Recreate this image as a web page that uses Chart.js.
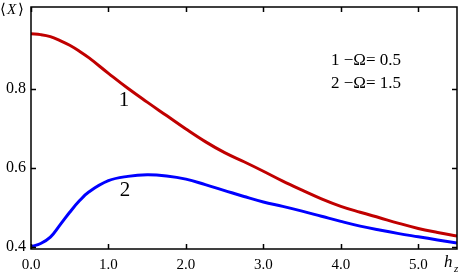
<!DOCTYPE html>
<html>
<head>
<meta charset="utf-8">
<script src="https://cdn.jsdelivr.net/npm/chart.js@4"></script>
<style>
    html, body { margin: 0; padding: 0; background: #fff; }
    #wrap { width: 463px; height: 273px; position: relative; }
</style>
</head>
<body>
<div id="wrap"><canvas id="chart-x"></canvas></div>
<script>
// values
const hz = [0, 0.125, 0.25, 0.375, 0.5, 0.625, 0.75, 1.0, 1.25, 1.5, 1.75, 2.0, 2.25, 2.5, 2.75, 3.0, 3.25, 3.5, 3.75, 4.0, 4.25, 4.5, 4.75, 5.0, 5.25, 5.5];
const xOmega05 = [0.940, 0.938, 0.933, 0.923, 0.911, 0.896, 0.879, 0.840, 0.802, 0.767, 0.733, 0.699, 0.667, 0.639, 0.616, 0.592, 0.567, 0.544, 0.522, 0.503, 0.488, 0.474, 0.460, 0.447, 0.437, 0.428];
const xOmega15 = [0.401, 0.409, 0.425, 0.456, 0.488, 0.517, 0.540, 0.568, 0.579, 0.583, 0.580, 0.572, 0.558, 0.543, 0.528, 0.514, 0.503, 0.491, 0.478, 0.465, 0.453, 0.443, 0.434, 0.426, 0.418, 0.410];
const xTicks = [0, 1, 2, 3, 4, 5];
const xTickLabels = ['0.0', '1.0', '2.0', '3.0', '4.0', '5.0'];
const yTicks = [0.4, 0.6, 0.8];
const yTickLabels = ['0.4', '0.6', '0.8'];
const legendLines = ['1 \u2212\u03A9= 0.5', '2 \u2212\u03A9= 1.5'];
const curveLabels = ['1', '2'];

const SERIF = '"Liberation Serif", "DejaVu Serif", serif';

const toPoints = (ys) => hz.map((x, i) => ({ x: x, y: ys[i] }));

// frame, inward ticks on all sides, tick labels and annotations
const framePlugin = {
    id: 'frame',
    afterDraw(chart) {
        const { ctx, chartArea: a, scales: { x, y } } = chart;
        ctx.save();
        ctx.strokeStyle = '#000';
        ctx.lineWidth = 1.5;
        ctx.strokeRect(a.left, a.top, a.right - a.left, a.bottom - a.top);

        const tl = 5;
        ctx.beginPath();
        xTicks.forEach(v => {
            const px = Math.round(x.getPixelForValue(v)) + 0.5;
            ctx.moveTo(px, a.bottom); ctx.lineTo(px, a.bottom - tl);
            ctx.moveTo(px, a.top); ctx.lineTo(px, a.top + tl);
        });
        yTicks.forEach(v => {
            const py = Math.round(y.getPixelForValue(v)) + 0.5;
            ctx.moveTo(a.left, py); ctx.lineTo(a.left + tl, py);
            ctx.moveTo(a.right, py); ctx.lineTo(a.right - tl, py);
        });
        ctx.stroke();

        ctx.fillStyle = '#000';
        ctx.font = '15px ' + SERIF;
        ctx.textAlign = 'center';
        ctx.textBaseline = 'middle';
        xTicks.forEach((v, i) => {
            ctx.fillText(xTickLabels[i], x.getPixelForValue(v), a.bottom + 16);
        });
        ctx.textAlign = 'right';
        ctx.font = '16px ' + SERIF;
        yTicks.forEach((v, i) => {
            ctx.fillText(yTickLabels[i], a.left - 5, y.getPixelForValue(v));
        });

        // axis names
        ctx.textAlign = 'left';
        ctx.textBaseline = 'alphabetic';
        ctx.font = 'italic 17px ' + SERIF;
        ctx.fillText('h', 444, 267);
        ctx.font = 'italic 11px ' + SERIF;
        ctx.fillText('z', 454, 272);

        ctx.font = '15px ' + SERIF;
        ctx.fillText('\u27E8', 0, 14);
        ctx.font = 'italic 15px ' + SERIF;
        ctx.fillText('X', 7, 14);
        ctx.font = '15px ' + SERIF;
        ctx.fillText('\u27E9', 18, 14);

        // legend text
        ctx.font = '17px ' + SERIF;
        ctx.textBaseline = 'middle';
        ctx.fillText(legendLines[0], 331, 61);
        ctx.fillText(legendLines[1], 331, 84);

        // curve numbers
        ctx.font = '21px ' + SERIF;
        ctx.textAlign = 'center';
        ctx.fillText(curveLabels[0], 124, 100);
        ctx.fillText(curveLabels[1], 125, 190);
        ctx.restore();
    }
};

new Chart(document.getElementById('chart-x').getContext('2d'), {
    type: 'line',
    data: {
        datasets: [{
            label: '\u03A9 = 0.5',
            data: toPoints(xOmega05),
            borderColor: '#c00000',
            borderWidth: 3,
            pointRadius: 0,
            tension: 0.4,
            fill: false
        }, {
            label: '\u03A9 = 1.5',
            data: toPoints(xOmega15),
            borderColor: '#0000ff',
            borderWidth: 3,
            pointRadius: 0,
            tension: 0.4,
            fill: false
        }]
    },
    options: {
        responsive: true,
        maintainAspectRatio: false,
        animation: false,
        layout: { padding: { left: 31, right: 6, top: 7, bottom: 24 } },
        plugins: {
            legend: { display: false },
            tooltip: { enabled: false }
        },
        scales: {
            x: { type: 'linear', display: false, min: 0, max: 5.5 },
            y: { type: 'linear', display: false, min: 0.395, max: 1.008 }
        }
    },
    plugins: [framePlugin]
});
</script>
</body>
</html>
